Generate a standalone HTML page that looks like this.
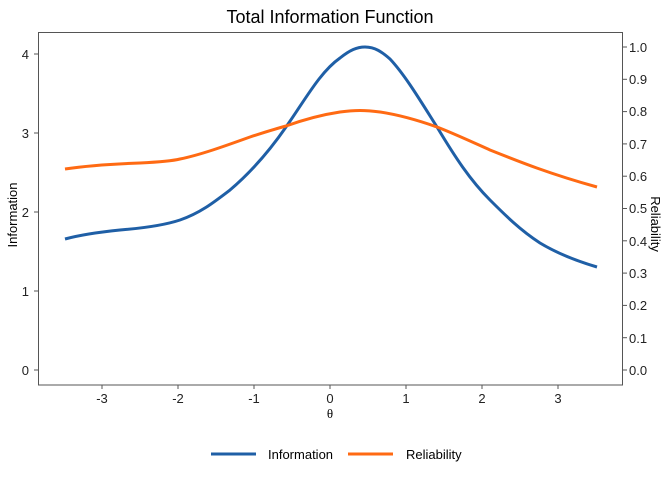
<!DOCTYPE html>
<html><head><style>body{margin:0;background:#fff}svg{display:block;font-family:"Liberation Sans",Arial,sans-serif}</style></head><body>
<svg width="672" height="480" viewBox="0 0 672 480">
<text x="330" y="23" font-size="18" text-anchor="middle" fill="#000">Total Information Function</text>
<rect x="38.5" y="32.5" width="584" height="352.5" fill="none" stroke="#555" stroke-width="1"/>
<g font-size="13" fill="#222" text-anchor="end">
<text x="29" y="59">4</text><text x="29" y="138">3</text><text x="29" y="217">2</text><text x="29" y="296">1</text><text x="29" y="375">0</text>
</g>
<g stroke="#555"><line x1="34" x2="38" y1="54" y2="54"/><line x1="34" x2="38" y1="133" y2="133"/><line x1="34" x2="38" y1="212" y2="212"/><line x1="34" x2="38" y1="291" y2="291"/><line x1="34" x2="38" y1="370" y2="370"/></g>
<g font-size="13" fill="#222">
<text x="629" y="52">1.0</text><text x="629" y="84">0.9</text><text x="629" y="116">0.8</text><text x="629" y="149">0.7</text><text x="629" y="181">0.6</text><text x="629" y="213">0.5</text><text x="629" y="246">0.4</text><text x="629" y="278">0.3</text><text x="629" y="310">0.2</text><text x="629" y="343">0.1</text><text x="629" y="375">0.0</text>
</g>
<g stroke="#555">
<line x1="623" x2="627" y1="47" y2="47"/><line x1="623" x2="627" y1="79.3" y2="79.3"/><line x1="623" x2="627" y1="111.6" y2="111.6"/><line x1="623" x2="627" y1="143.9" y2="143.9"/><line x1="623" x2="627" y1="176.2" y2="176.2"/><line x1="623" x2="627" y1="208.5" y2="208.5"/><line x1="623" x2="627" y1="240.8" y2="240.8"/><line x1="623" x2="627" y1="273.1" y2="273.1"/><line x1="623" x2="627" y1="305.4" y2="305.4"/><line x1="623" x2="627" y1="337.7" y2="337.7"/><line x1="623" x2="627" y1="370" y2="370"/>
</g>
<g font-size="13" fill="#222" text-anchor="middle">
<text x="102" y="403">-3</text><text x="178" y="403">-2</text><text x="254" y="403">-1</text><text x="330" y="403">0</text><text x="406" y="403">1</text><text x="482" y="403">2</text><text x="558" y="403">3</text>
</g>
<g stroke="#555"><line y1="385" y2="389" x1="102" x2="102"/><line y1="385" y2="389" x1="178" x2="178"/><line y1="385" y2="389" x1="254" x2="254"/><line y1="385" y2="389" x1="330" x2="330"/><line y1="385" y2="389" x1="406" x2="406"/><line y1="385" y2="389" x1="482" x2="482"/><line y1="385" y2="389" x1="558" x2="558"/></g>
<text x="330" y="418" font-size="13" text-anchor="middle" font-family="Liberation Serif,serif">θ</text>
<text transform="translate(17,215) rotate(-90)" font-size="13" text-anchor="middle">Information</text>
<text transform="translate(651,224) rotate(90)" font-size="13" text-anchor="middle">Reliability</text>
<path fill="none" stroke="#1f5fa6" stroke-width="3" stroke-linejoin="round" d="M65,239 C80,235 100,232 120,230 C145,228 165,225 180,220 C200,213 213,203 230,190 C250,173 268,153 286,127 C305,100 320,72 340,58 C350,50 357,47 365,47 C375,47 382,52 390,59 C405,75 420,100 437,127 C455,157 470,180 490,200 C505,215 520,230 540,243 C560,255 580,262 597,267"/>
<path fill="none" stroke="#ff6a13" stroke-width="3" stroke-linejoin="round" d="M65,169 C85,166 110,164 140,163 C160,162 172,161 180,159 C200,155 225,146 250,137 C265,132 275,129 286,126 C300,121 320,115 340,112 C355,110 365,110 380,112 C400,115 420,121 437,127 C455,134 470,141 490,150 C520,162 550,174 597,187"/>
<line x1="211" x2="256" y1="454" y2="454" stroke="#1f5fa6" stroke-width="3"/>
<text x="268" y="459" font-size="13">Information</text>
<line x1="348" x2="393" y1="454" y2="454" stroke="#ff6a13" stroke-width="3"/>
<text x="406" y="459" font-size="13">Reliability</text>
</svg>
</body></html>
